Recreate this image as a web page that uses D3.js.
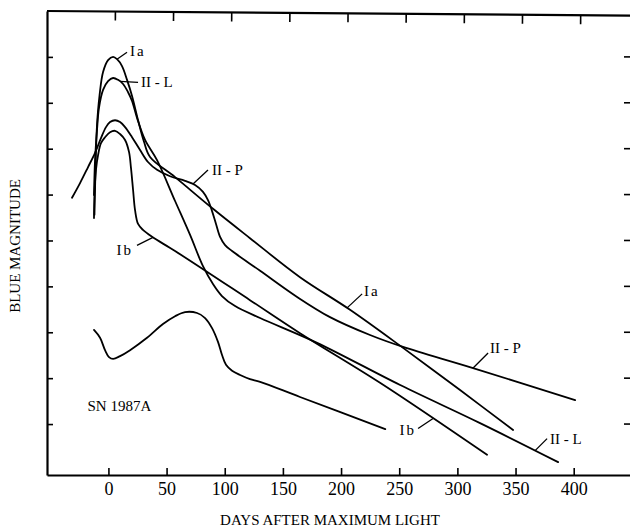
<!DOCTYPE html>
<html>
<head>
<meta charset="utf-8">
<script src="https://cdn.jsdelivr.net/npm/d3@7"></script>
<style>
  html, body { margin: 0; padding: 0; background: #fff; }
  svg { display: block; }
  svg text { font-family: "Liberation Serif", "DejaVu Serif", serif; fill: #000; }
</style>
</head>
<body>
<svg id="chart" width="630" height="531"></svg>
<script>
// Light curves: [days after maximum, relative blue magnitude (1 unit = 1 mag, fainter downward)]
const typeIa = [
  [-12.0, 4.44], [-11.1, 3.46], [-9.8, 2.48], [-7.6, 1.83], [-4.6, 1.33], [-0.3, 1.07],
  [4.0, 1.00], [7.4, 1.05], [11.7, 1.20], [16.0, 1.50], [20.3, 1.85], [25.5, 2.38],
  [30.6, 2.85], [35.8, 3.18], [57.3, 3.62], [89.9, 4.31], [121.7, 4.95], [164.7, 5.80],
  [207.7, 6.51], [253.3, 7.34], [302.3, 8.26], [347.9, 9.13]
];
const typeIIL = [
  [-12.4, 4.01], [-11.5, 3.25], [-9.8, 2.59], [-8.1, 2.11], [-4.6, 1.72], [-0.3, 1.53],
  [4.0, 1.46], [8.3, 1.50], [12.6, 1.59], [16.9, 1.77], [20.3, 1.96], [24.6, 2.33],
  [31.5, 2.81], [41.8, 3.25], [57.3, 4.14], [70.2, 4.88], [81.3, 5.56], [89.9, 5.95],
  [97.6, 6.21], [108.9, 6.43], [130.4, 6.69], [179.4, 7.23], [250.8, 8.15], [319.5, 8.98],
  [386.6, 9.83]
];
const typeIIP = [
  [-31.3, 4.07], [-24.4, 3.75], [-17.5, 3.40], [-11.5, 3.09], [-6.4, 2.77], [-2.1, 2.53],
  [1.4, 2.42], [5.7, 2.38], [10.0, 2.42], [14.3, 2.53], [20.3, 2.75], [27.2, 3.03],
  [34.0, 3.29], [41.8, 3.46], [53.0, 3.60], [65.9, 3.70], [74.5, 3.79], [81.3, 3.94],
  [85.6, 4.12], [89.1, 4.36], [92.5, 4.64], [96.0, 4.92], [100.3, 5.10], [106.3, 5.23],
  [130.4, 5.66], [162.2, 6.23], [190.5, 6.67], [224.9, 7.06], [253.3, 7.32], [313.5, 7.78],
  [401.2, 8.48]
];
const typeIb = [
  [-12.4, 4.51], [-12.0, 4.01], [-10.7, 3.46], [-8.9, 3.14], [-6.4, 2.88], [-2.9, 2.75],
  [1.4, 2.64], [5.7, 2.61], [10.0, 2.68], [14.3, 2.81], [17.7, 3.07], [19.4, 3.42],
  [21.2, 3.90], [22.9, 4.34], [25.5, 4.64], [29.7, 4.77], [37.5, 4.92], [57.3, 5.23],
  [121.7, 6.30], [164.7, 7.02], [233.5, 8.10], [325.5, 9.67]
];
const sn1987A = [
  [-12.4, 6.95], [-7.2, 7.12], [-2.9, 7.39], [0.5, 7.54], [4.0, 7.58], [10.0, 7.52],
  [18.6, 7.39], [33.2, 7.12], [46.9, 6.82], [57.3, 6.65], [65.9, 6.56], [76.2, 6.58],
  [83.1, 6.69], [89.1, 6.91], [94.2, 7.21], [97.6, 7.49], [101.1, 7.71], [106.3, 7.84],
  [113.2, 7.93], [121.7, 8.02], [130.4, 8.08], [164.7, 8.41], [238.0, 9.11]
];

// Axis ticks
const dayTicks = [0, 50, 100, 150, 200, 250, 300, 350, 400];
const magTicks = [1, 2, 3, 4, 5, 6, 7, 8, 9];

// Curve labels: text, curve, day where the leader touches the curve
const labelTexts = ["Ia", "II - L", "II - P", "Ib", "Ia", "II - P", "Ib", "II - L"];
const labelSeries = [typeIa, typeIIL, typeIIP, typeIb, typeIa, typeIIP, typeIb, typeIIL];
const labelDays = [7.4, 10.0, 72.7, 38.3, 205.2, 313.5, 279.1, 366.8];

// Leader geometry for each label (offsets in px from the touch point)
const leaderLayout = [
  { dx: 10, dy: -7, tx: 3, ty: 4, anchor: "start" },
  { dx: 18, dy: 1, tx: 3, ty: 5, anchor: "start" },
  { dx: 15, dy: -14, tx: 4, ty: 5, anchor: "start" },
  { dx: -16, dy: 8, tx: -4, ty: 10, anchor: "end" },
  { dx: 15, dy: -14, tx: 2, ty: 2, anchor: "start" },
  { dx: 15, dy: -15, tx: 2, ty: 0, anchor: "start" },
  { dx: -15, dy: 10, tx: -2, ty: 7, anchor: "end" },
  { dx: 12, dy: -12, tx: 3, ty: 5, anchor: "start" }
];

const svg = d3.select("#chart");
const plotLeft = 47, plotRight = 630, plotTop = 11, plotBottom = 475;

const x = d3.scaleLinear().domain([-52.8, 448.4]).range([plotLeft, plotRight]);
const y = d3.scaleLinear().domain([0, 10.11]).range([plotTop, plotBottom]);

// Bottom and left axes (ticks point into the plot)
const bottomAxis = svg.append("g")
  .attr("transform", `translate(0,${plotBottom})`)
  .call(d3.axisBottom(x).tickValues(dayTicks).tickSize(-7).tickSizeOuter(0).tickPadding(7));
bottomAxis.selectAll("text")
  .style("font-family", "'Liberation Serif', 'DejaVu Serif', serif")
  .style("font-size", "18px");

svg.append("g")
  .attr("transform", `translate(${plotLeft},0)`)
  .call(d3.axisRight(y).tickValues(magTicks).tickSize(6).tickSizeOuter(0).tickFormat(""));

svg.selectAll(".domain").attr("stroke", "#000").attr("stroke-width", 2.2);
svg.selectAll(".tick line").attr("stroke", "#000").attr("stroke-width", 1.6);

// Top edge, slightly skewed as on the printed figure, with its ticks
const topEdge = svg.append("g")
  .attr("transform", `translate(0,${plotTop}) rotate(0.45, ${plotLeft}, 0)`);
topEdge.append("line")
  .attr("x1", plotLeft).attr("x2", plotRight)
  .attr("y1", 0).attr("y2", 0)
  .attr("stroke", "#000").attr("stroke-width", 2.2);
topEdge.selectAll("line.tick-top")
  .data(dayTicks)
  .join("line")
  .attr("class", "tick-top")
  .attr("x1", d => x(d) + 7).attr("x2", d => x(d) + 7)
  .attr("y1", 0).attr("y2", 9)
  .attr("stroke", "#000").attr("stroke-width", 1.6);

// Right-hand ticks (the right edge itself falls at the border)
svg.append("g")
  .selectAll("line")
  .data(magTicks)
  .join("line")
  .attr("x1", plotRight - 6).attr("x2", plotRight)
  .attr("y1", d => y(d)).attr("y2", d => y(d))
  .attr("stroke", "#000").attr("stroke-width", 1.6);

// Light curves
const line = d3.line()
  .x(d => x(d[0]))
  .y(d => y(d[1]))
  .curve(d3.curveCatmullRom.alpha(0.5));

const curves = [typeIa, typeIIL, typeIIP, typeIb, sn1987A];
svg.append("g")
  .selectAll("path")
  .data(curves)
  .join("path")
  .attr("d", line)
  .attr("fill", "none")
  .attr("stroke", "#000")
  .attr("stroke-width", 1.8)
  .attr("stroke-linejoin", "round")
  .attr("stroke-linecap", "round");

// Magnitude of a curve at a given day (linear between samples)
function magAt(series, day) {
  const i = d3.bisector(d => d[0]).left(series, day);
  if (i <= 0) return series[0][1];
  if (i >= series.length) return series[series.length - 1][1];
  const a = series[i - 1], b = series[i];
  const t = (day - a[0]) / (b[0] - a[0]);
  return a[1] + t * (b[1] - a[1]);
}

// Labels with leader lines
const labelGroup = svg.append("g");
labelTexts.forEach((txt, i) => {
  const px = x(labelDays[i]);
  const py = y(magAt(labelSeries[i], labelDays[i]));
  const L = leaderLayout[i];
  labelGroup.append("line")
    .attr("x1", px).attr("y1", py)
    .attr("x2", px + L.dx).attr("y2", py + L.dy)
    .attr("stroke", "#000").attr("stroke-width", 1.3);
  labelGroup.append("text")
    .attr("x", px + L.dx + L.tx)
    .attr("y", py + L.dy + L.ty)
    .attr("text-anchor", L.anchor)
    .style("font-size", "15px")
    .attr("letter-spacing", txt.length === 2 ? 2 : 0)
    .text(txt);
});

// Object name
svg.append("text")
  .attr("x", x(-18))
  .attr("y", y(8.72))
  .style("font-size", "15px")
  .text("SN 1987A");

// Axis titles
svg.append("text")
  .attr("x", 330)
  .attr("y", 525)
  .attr("text-anchor", "middle")
  .style("font-size", "15px")
  .text("DAYS AFTER MAXIMUM LIGHT");

svg.append("text")
  .attr("transform", "translate(20,246) rotate(-90)")
  .attr("text-anchor", "middle")
  .style("font-size", "15px")
  .text("BLUE MAGNITUDE");
</script>
</body>
</html>
